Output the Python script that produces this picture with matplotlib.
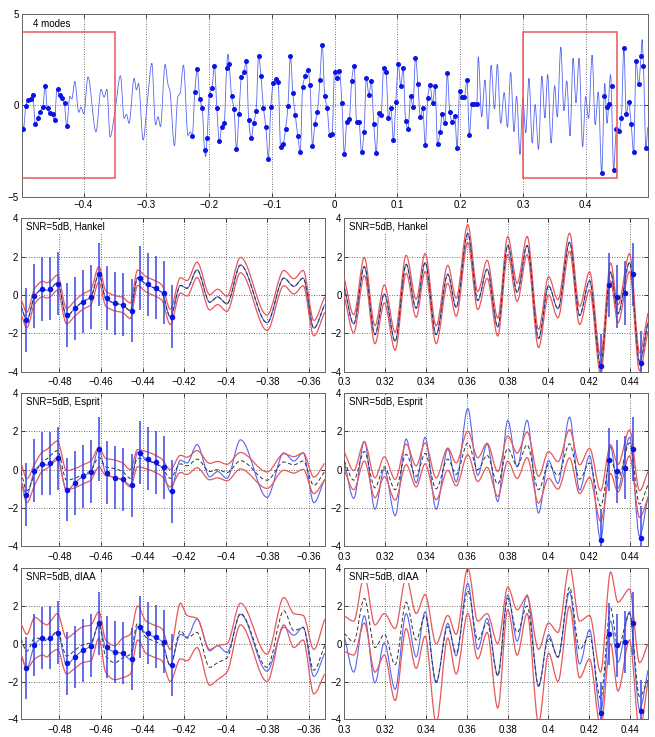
import numpy as np
import matplotlib
matplotlib.use('Agg')
import matplotlib.pyplot as plt
from matplotlib.path import Path
from matplotlib.patches import PathPatch, Rectangle
from matplotlib.ticker import FuncFormatter

plt.rcParams['font.family'] = ['Liberation Sans', 'DejaVu Sans']
plt.rcParams['font.size'] = 7

# ---------------- data ----------------
grid_step = 1 / 256          # sampling grid of the observed samples
idx_a = np.arange(1, 20)
idx_b = np.arange(70, 187)
idx_c = np.arange(237, 256)

samples_a = [-1.30, -0.05, 0.31, 0.33, 0.59, -1.04, -0.70, -0.35, -0.10, 1.08,
             -0.16, -0.43, -0.50, -0.82, 0.89, 0.56, 0.38, 0.12, -1.13]
samples_b = [-1.66, 0.75, 1.99, 0.37, -0.16, -2.46, -1.77, 0.58, 0.97, 2.17,
             -0.16, -1.95, -1.19, -0.95, 2.06, 2.28, 0.51, -0.22, -2.39, -0.49,
             1.55, 1.81, 2.43, -0.82, -1.81, -0.95, -0.31, 2.70, 1.61, -0.16,
             -1.20, -2.96, -0.09, 1.24, 1.42, 1.30, -2.26, -2.14, -1.28, -0.04,
             2.72, 0.66, -0.55, -1.66, -2.54, 1.00, 1.61, 1.95, 1.11, -2.21,
             -1.02, -0.38, 1.37, 3.32, 0.51, -0.16, -1.61, -1.57, 1.84,
             1.48, 1.88, 0.13, -2.68, -0.89, -0.77, 1.35, 2.17, -0.89, -0.93,
             -2.57, -1.48, 1.51, 0.55, 1.33, -1.00, -2.59, -0.42, -0.55, 2.06,
             1.84, -0.68, -0.13, -1.90, 0.18, 2.24, 1.06, 2.04, -0.84, -1.30,
             0.49, -0.07, 2.61, 1.17, -0.66, -0.16, -2.19, 0.42, 1.09, 0.11,
             1.06, -2.14, -1.48, -0.49, -0.97, 1.77, -0.38, -0.89, -0.57, -2.35,
             0.78, 0.47, 0.46, 1.41, -1.62, 0.09, 0.07, 0.07]
samples_c = [-3.69, 0.52, -0.09, 0.10, 1.08, -3.55, -1.28, -1.41, -0.67, 3.16,
             -0.49, 0.16, -1.04, -2.57, 2.41, 1.15, 2.68, 2.15, -2.32]
err_half = 1.65

# true signal, left window (extrema / knots)
L_x = [-0.4985, -0.4957, -0.4919, -0.4880, -0.4861, -0.4842, -0.4810, -0.4766,
       -0.4726, -0.4688, -0.4649, -0.4610, -0.4578, -0.4533, -0.4496, -0.4459,
       -0.4424, -0.4384, -0.4347, -0.4307, -0.4267, -0.4218, -0.4186, -0.4138,
       -0.4077, -0.4039, -0.3994, -0.3929, -0.3801, -0.3720, -0.3672, -0.3627,
       -0.3576, -0.3524]
L_true = [-0.60, -1.30, -0.05, 0.31, 0.24, 0.33, 0.64, -1.10, -0.70, -0.35,
          -0.11, 1.08, -0.17, -0.43, -0.52, -0.82, 0.90, 0.56, 0.38, 0.12,
          -1.14, 0.50, 0.35, 1.31, -0.38, -0.10, -0.46, 1.56, -1.45, 0.88,
          0.45, 0.88, -1.73, -0.50]
L_hk_mean = L_true
L_hk_hw = 0.40
L_esp_mean = [-0.10, -1.10, -0.25, 0.45, 0.55, 0.75, 1.00, -0.55, -0.45, -0.25,
              -0.05, 0.65, 0.15, 0.05, -0.10, -0.45, 0.60, 0.50, 0.35, 0.10,
              -0.45, 0.30, 0.20, 0.55, -0.10, 0.00, -0.15, 0.47, -0.55, 0.40,
              0.25, 0.45, -0.82, -0.10]
L_esp_hw = [0.45, 0.63, 0.55, 0.50, 0.50, 0.50, 0.50, 0.50, 0.50, 0.50,
            0.50, 0.50, 0.45, 0.45, 0.45, 0.45, 0.45, 0.45, 0.45, 0.45,
            0.45, 0.45, 0.45, 0.45, 0.43, 0.43, 0.43, 0.43, 0.43, 0.43,
            0.43, 0.43, 0.43, 0.43]
L_iaa_mean = [0.25, -0.40, 0.30, 0.25, 0.15, 0.35, 0.65, -0.65, -0.35, -0.05,
              0.05, 1.00, -0.65, -1.00, -0.75, -0.55, 1.10, 0.35, 0.15, -0.05,
              -1.15, 0.70, 0.30, 0.60, -1.25, -1.00, -0.75, 1.60, -1.25, 1.75,
              0.70, 0.85, -1.40, -0.10]
L_iaa_up = [1.05, 0.50, 1.40, 1.10, 1.00, 1.20, 1.60, 0.30, 0.60, 0.90,
            1.00, 1.70, 0.20, -0.10, 0.30, 0.50, 2.00, 1.20, 1.00, 0.80,
            -0.30, 2.15, 1.50, 1.35, -0.30, -0.10, 0.00, 2.15, -0.55, 2.45,
            1.60, 1.50, -0.30, 1.30]
L_iaa_lo = [-0.55, -1.30, -0.80, -0.60, -0.70, -0.50, -0.30, -1.60, -1.30, -1.00,
            -0.90, 0.30, -1.50, -1.90, -1.80, -1.60, 0.20, -0.50, -0.70, -0.90,
            -2.00, -0.80, -0.90, -0.20, -2.20, -1.90, -1.50, 1.00, -2.00, 1.00,
            -0.20, 0.20, -2.65, -1.60]

# true signal, right window
R_x = [0.3000, 0.3046, 0.3098, 0.3150, 0.3196, 0.3249, 0.3303, 0.3352, 0.3396,
       0.3450, 0.3507, 0.3548, 0.3605, 0.3654, 0.3700, 0.3752, 0.3801, 0.3847,
       0.3896, 0.3952, 0.4001, 0.4047, 0.4104, 0.4153, 0.4202, 0.4256, 0.4305,
       0.4341, 0.4398, 0.4447, 0.4488]
R_true = [0.40, -1.50, 1.48, -2.07, 0.05, -2.41, 1.60, -0.69, 1.69, -2.07, 1.08,
          -0.64, 3.20, -0.29, 1.34, -1.67, 2.58, 0.14, 2.58, -2.27, 0.48, -0.72,
          2.75, -1.07, 0.74, -3.65, 1.20, -0.98, 1.69, -3.48, -1.41]
R_hk_mean = R_true
R_hk_hw = 0.47
R_esp_mean = [0.45, -0.55, 0.95, -0.95, 0.15, -1.05, 0.80, -0.35, 0.85, -1.00,
              0.55, -0.25, 1.40, 0.00, 0.75, -0.75, 1.10, 0.20, 1.30, -1.05,
              0.25, -0.30, 1.35, -0.50, 0.35, -1.90, 0.55, -0.45, 1.40, -1.80,
              -0.80]
R_esp_hw = [0.48, 0.50, 0.50, 0.52, 0.52, 0.54, 0.54, 0.55, 0.55, 0.57, 0.58,
            0.60, 0.62, 0.62, 0.63, 0.65, 0.66, 0.66, 0.67, 0.70, 0.70, 0.72,
            0.74, 0.75, 0.76, 0.80, 0.75, 0.72, 0.68, 0.70, 0.70]
R_iaa_mean = [0.55, 0.10, 2.40, -0.20, 0.50, -1.10, 2.20, 0.20, 1.50, -2.00,
              0.90, -0.50, 2.80, 0.20, 1.10, -1.70, 2.40, 0.60, 2.00, -2.20,
              0.30, -0.70, 3.00, -0.30, 0.40, -2.90, 1.90, -0.20, 1.60, -2.80,
              -1.90]
R_iaa_up = [1.47, 1.20, 3.60, 1.00, 1.60, 0.80, 3.50, 1.60, 2.60, 0.00, 1.50,
            0.50, 4.00, 1.20, 1.60, 0.00, 3.00, 1.80, 2.50, -0.30, 1.10, 0.60,
            4.10, 1.20, 1.50, -1.50, 3.80, 2.20, 2.90, -1.00, 0.00]
R_iaa_lo = [-0.40, -0.60, 1.10, -1.50, -0.60, -3.00, 0.80, -1.30, 0.40, -4.20,
            0.30, -1.60, 1.60, -0.80, 0.60, -3.40, 1.80, -0.60, 1.60, -4.20,
            -0.50, -2.00, 2.00, -1.80, -0.80, -4.40, 0.00, -2.50, 0.20, -4.60,
            -2.00]

# knots of the signal between the windows (top panel)
gap1_x = [-0.3500, -0.3411, -0.3353, -0.3316, -0.3274, -0.3193, -0.3156, -0.3124,
          -0.3050, -0.2980, -0.2911, -0.2852, -0.2811, -0.2774, -0.2700, -0.2652,
          -0.2625, -0.2551, -0.2498, -0.2461, -0.2408, -0.2335, -0.2300]
gap1_y = [-0.35, 1.62, -0.71, -0.49, -0.99, 1.48, 0.84, 1.20, -1.90, 0.29,
          2.30, -1.08, -0.62, -1.17, 2.24, 1.11, 0.84, -2.21, 0.47, 0.66,
          2.21, -1.65, -1.45]
extra_x = [-0.2055, -0.1700]
extra_y = [-2.80, 2.80]
gap2_x = [0.2290, 0.2344, 0.2397, 0.2445, 0.2495, 0.2548, 0.2594, 0.2647,
          0.2703, 0.2755, 0.2806, 0.2859, 0.2900, 0.2955]
gap2_y = [2.66, -0.62, 1.39, -1.30, 2.20, -0.20, 2.25, -0.99, 0.70, -1.20,
          1.80, -1.44, 0.50, -2.68]
tail_x = [0.4900, 0.4990]
tail_y = [3.60, -1.20]

top_xticks = [-0.4, -0.3, -0.2, -0.1, 0, 0.1, 0.2, 0.3, 0.4]
left_xticks = [-0.48, -0.46, -0.44, -0.42, -0.4, -0.38, -0.36]
right_xticks = [0.3, 0.32, 0.34, 0.36, 0.38, 0.4, 0.42, 0.44]
methods = ['Hankel', 'Esprit', 'dIAA']

BLUE = '#5566f0'
DOT = '#0a14e6'
RED = '#e8575a'
DASH = '#333333'


def smooth(ax, x, y, **kw):
    # draw a smooth curve through the knots (monotone cubic -> Bezier path)
    x = np.asarray(x, float)
    y = np.asarray(y, float)
    h = np.diff(x)
    m = np.diff(y) / h
    d = np.zeros_like(y)
    d[0], d[-1] = m[0], m[-1]
    for i in range(1, len(x) - 1):
        if m[i - 1] * m[i] > 0:
            w1 = 2 * h[i] + h[i - 1]
            w2 = h[i] + 2 * h[i - 1]
            d[i] = (w1 + w2) / (w1 / m[i - 1] + w2 / m[i])
    verts = [(x[0], y[0])]
    codes = [Path.MOVETO]
    for i in range(len(h)):
        verts += [(x[i] + h[i] / 3, y[i] + d[i] * h[i] / 3),
                  (x[i + 1] - h[i] / 3, y[i + 1] - d[i + 1] * h[i] / 3),
                  (x[i + 1], y[i + 1])]
        codes += [Path.CURVE4] * 3
    ax.add_patch(PathPatch(Path(verts, codes), fill=False, **kw))


def fmt(v, p):
    if abs(v) < 1e-9:
        v = 0
    return ('%g' % round(v, 4)).replace('-', '\u2212')


def style(ax, xpad):
    ax.grid(True, linestyle=(0, (1, 2)), color='0.25', linewidth=0.6)
    ax.tick_params(direction='in', length=3, width=0.5, top=True, right=True,
                   labelsize=7, pad=2)
    ax.tick_params(axis='x', pad=xpad)
    ax.xaxis.set_major_formatter(FuncFormatter(fmt))
    ax.yaxis.set_major_formatter(FuncFormatter(fmt))
    for s in ax.spines.values():
        s.set_linewidth(0.7)
        s.set_color('0.4')


fig = plt.figure(figsize=(6.55, 7.37), dpi=100)

# ---------------- top panel ----------------
ax = fig.add_axes([0.0331, 0.7331, 0.9558, 0.2479])
t_a = -0.5 + idx_a * grid_step
t_b = -0.5 + idx_b * grid_step
t_c = -0.5 + idx_c * grid_step
keep = t_c > R_x[-1]
kx = np.concatenate([L_x[:-1], gap1_x, t_b, extra_x, gap2_x, R_x[:-1],
                     t_c[keep], tail_x])
ky = np.concatenate([L_true[:-1], gap1_y, samples_b, extra_y, gap2_y,
                     R_true[:-1], np.array(samples_c)[keep], tail_y])
order = np.argsort(kx)
smooth(ax, kx[order], ky[order], edgecolor=BLUE, linewidth=0.6, zorder=2)
t_all = np.concatenate([t_a, t_b, t_c])
s_all = np.concatenate([samples_a, samples_b, samples_c])
ax.plot(t_all, s_all, 'o', color=DOT, markersize=3.6, markeredgewidth=0, zorder=3)
ax.add_patch(Rectangle((-0.5, -4), 0.15, 8, fill=False, edgecolor=RED,
                       linewidth=1.1, zorder=4))
ax.add_patch(Rectangle((0.3, -4), 0.15, 8, fill=False, edgecolor=RED,
                       linewidth=1.1, zorder=4))
ax.set_xlim(-0.4985, 0.499)
ax.set_ylim(-5, 5)
ax.set_xticks(top_xticks)
ax.set_yticks([-5, 0, 5])
style(ax, 2.5)
ax.text(0.018, 0.975, '4 modes', transform=ax.transAxes, va='top', ha='left',
        fontsize=7, zorder=5,
        bbox=dict(facecolor='white', edgecolor='none', pad=1.5))

# ---------------- bottom panels ----------------
rows_bottom = [0.4957, 0.2590, 0.0240]
rows_h = [0.2081, 0.2075, 0.2050]
windows = [
    dict(x=L_x, true=L_true, xl=(-0.4985, -0.3524), ticks=left_xticks,
         left=0.0321, t=t_a, s=samples_a,
         hk=(L_hk_mean, L_hk_hw), esp=(L_esp_mean, L_esp_hw),
         iaa=(L_iaa_mean, L_iaa_up, L_iaa_lo)),
    dict(x=R_x, true=R_true, xl=(0.3, 0.4488), ticks=right_xticks,
         left=0.5257, t=t_c[:6], s=samples_c[:6],
         hk=(R_hk_mean, R_hk_hw), esp=(R_esp_mean, R_esp_hw),
         iaa=(R_iaa_mean, R_iaa_up, R_iaa_lo)),
]

for r, name in enumerate(methods):
    for w in windows:
        ax = fig.add_axes([w['left'], rows_bottom[r], 0.4635, rows_h[r]])
        x = np.asarray(w['x'])
        smooth(ax, x, w['true'], edgecolor=BLUE, linewidth=0.8, zorder=2)
        if name == 'Hankel':
            mean, hw = w['hk']
            up = np.asarray(mean) + hw
            lo = np.asarray(mean) - hw
        elif name == 'Esprit':
            mean, hw = w['esp']
            up = np.asarray(mean) + np.asarray(hw)
            lo = np.asarray(mean) - np.asarray(hw)
        else:
            mean, up, lo = w['iaa']
        smooth(ax, x, up, edgecolor=RED, linewidth=0.9, zorder=3)
        smooth(ax, x, lo, edgecolor=RED, linewidth=0.9, zorder=3)
        smooth(ax, x, mean, edgecolor=DASH, linewidth=0.7,
               linestyle=(0, (4, 2.5)), zorder=4)
        s = np.asarray(w['s'])
        ax.vlines(w['t'], s - err_half, s + err_half, color='#3b46e6',
                  linewidth=1.1, zorder=5)
        ax.plot(w['t'], s, 'o', color=DOT, markersize=4, markeredgewidth=0,
                zorder=6)
        ax.set_xlim(*w['xl'])
        ax.set_ylim(-4, 4)
        ax.set_xticks(w['ticks'])
        ax.set_yticks([-4, -2, 0, 2, 4])
        style(ax, 4.0)
        ax.text(0.016, 0.978, 'SNR=5dB, ' + name, transform=ax.transAxes,
                va='top', ha='left', fontsize=7, zorder=7,
                bbox=dict(facecolor='white', edgecolor='none', pad=1.0))

fig.savefig('out.png', dpi=100)
